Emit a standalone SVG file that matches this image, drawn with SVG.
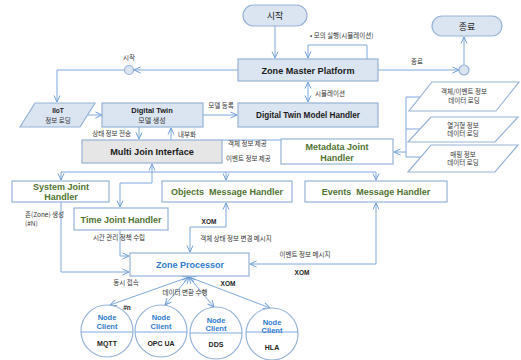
<svg xmlns="http://www.w3.org/2000/svg" width="521" height="360" viewBox="0 0 521 360">
<defs>
<marker id="a" viewBox="0 0 8 8" refX="7.5" refY="4" markerWidth="8" markerHeight="8" orient="auto-start-reverse" markerUnits="userSpaceOnUse"><path d="M1,1 L7.5,4 L1,7" fill="none" stroke="#6f9fd8" stroke-width="1"/></marker>
<style>
.b{fill:#dbe5f1;stroke:#95b3d7;stroke-width:1.2}
.w{fill:#ffffff;stroke:#95b3d7;stroke-width:1.2}
.g{fill:#e6e6e6;stroke:#95b3d7;stroke-width:1.2}
.c{fill:none;stroke:#7ea9dc;stroke-width:1}
.ca{fill:none;stroke:#7ea9dc;stroke-width:1;marker-end:url(#a)}
.cb{fill:none;stroke:#7ea9dc;stroke-width:1;marker-end:url(#a);marker-start:url(#a)}
text{font-family:"Liberation Sans","Noto Sans CJK KR",sans-serif;text-anchor:middle}
.k{font-family:"Noto Sans CJK KR","Liberation Sans",sans-serif;font-size:6.5px;fill:#333333}
.t{font-weight:bold;fill:#1a1a1a}
.gr{font-weight:bold;fill:#4f7330;font-size:9px}
.bl{font-weight:bold;fill:#2e7bcf}
.s{font-size:6.5px;font-weight:bold;fill:#222222}
</style>
</defs>
<rect width="521" height="360" fill="#ffffff"/>

<g id="connectors">
<line class="ca" x1="275" y1="26" x2="275" y2="58"/>
<polyline class="ca" points="367,59 367,45 308,45 308,58"/>
<line class="ca" x1="378" y1="70" x2="459" y2="70"/>
<line class="ca" x1="464" y1="65" x2="464" y2="37"/>
<line class="ca" x1="238" y1="70" x2="134" y2="70"/>
<polyline class="ca" points="124.5,70 57,70 57,102"/>
<line class="ca" x1="88" y1="115" x2="102" y2="115"/>
<line class="ca" x1="203" y1="115" x2="237" y2="115"/>
<line class="cb" x1="308" y1="82" x2="308" y2="102"/>
<line class="ca" x1="139" y1="127" x2="139" y2="139"/>
<line class="ca" x1="171" y1="140" x2="171" y2="128"/>
<line class="c" x1="222" y1="140" x2="281" y2="140"/>
<polyline class="c" points="420,97 406,97 406,157 420,157"/>
<line class="c" x1="406" y1="129" x2="420" y2="129"/>
<line class="ca" x1="406" y1="152" x2="394" y2="152"/>
<line class="c" x1="61" y1="172" x2="376" y2="172"/>
<line class="ca" x1="61" y1="172" x2="61" y2="180"/>
<line class="ca" x1="226" y1="172" x2="226" y2="180"/>
<line class="ca" x1="376" y1="172" x2="376" y2="180"/>
<polyline class="cb" points="152,164 152,183 120,183 120,207"/>
<polyline class="ca" points="61,202 61,272 129,272"/>
<polyline class="ca" points="120,230 120,256 129,256"/>
<polyline class="cb" points="226,203 226,227 190,227 190,252"/>
<polyline class="cb" points="376,203 376,264 250,264"/>
<line class="cb" x1="189" y1="277" x2="110" y2="305"/>
<line class="cb" x1="189" y1="277" x2="165" y2="305"/>
<line class="cb" x1="189" y1="277" x2="214" y2="307"/>
<line class="cb" x1="189" y1="277" x2="270" y2="308"/>
</g>

<g id="labels">
<text class="k" x="310" y="38" style="text-anchor:start">• 모의 실행(시뮬레이션)</text>
<text class="k" x="417" y="64">종료</text>
<text class="k" x="129" y="60">시작</text>
<text class="k" x="221" y="108">모델 등록</text>
<text class="k" x="315" y="96" style="text-anchor:start">시뮬레이션</text>
<text class="k" x="131" y="136" style="text-anchor:end">상태 정보 전송</text>
<text class="k" x="178" y="137" style="text-anchor:start">내부화</text>
<text class="k" x="228" y="146" style="text-anchor:start">객체 정보 제공</text>
<text class="k" x="226" y="161" style="text-anchor:start">이벤트 정보 제공</text>
<text class="k" x="25" y="217" style="text-anchor:start">존(Zone) 생성</text>
<text class="k" x="25" y="226" style="text-anchor:start">(#N)</text>
<text class="k" x="119" y="240">시간 관리 정책 수립</text>
<text class="s" x="209" y="224">XOM</text>
<text class="k" x="236" y="241">객체 상태 정보 변경 메시지</text>
<text class="k" x="305" y="257">이벤트 정보  메시지</text>
<text class="s" x="302" y="275">XOM</text>
<text class="k" x="126" y="285">동시 접속</text>
<text class="s" x="228" y="286">XOM</text>
<text class="k" x="185" y="295">데이터 변환 수행</text>
<text class="s" x="127" y="310">#n</text>
</g>

<g id="start"><rect class="b" x="243" y="5" width="64" height="21" rx="10.5"/><text class="k" x="275" y="19" style="font-size:9px;fill:#222">시작</text></g>
<g id="end"><rect class="b" x="432" y="16" width="70" height="20" rx="10"/><text class="k" x="467" y="29.5" style="font-size:9px;fill:#222">종료</text></g>
<g id="end-junction"><circle class="b" cx="464" cy="70" r="5"/></g>
<g id="start-junction"><circle class="b" cx="129" cy="70" r="4.5"/></g>

<g id="zone-master-platform"><rect class="b" x="238" y="59" width="140" height="22"/><text class="t" x="308" y="73.5" font-size="9.1">Zone Master Platform</text></g>
<g id="iiot"><polygon class="b" points="35,103 95,103 80,127 20,127"/><text class="s" x="58" y="113">IIoT</text><text class="k" x="58" y="123">정보 로딩</text></g>
<g id="digital-twin"><rect class="b" x="102" y="103" width="101" height="24"/><text class="t" x="152" y="113" font-size="7.5">Digital Twin</text><text class="k" x="152" y="123" style="font-size:7px">모델 생성</text></g>
<g id="dt-model-handler"><rect class="b" x="238" y="103" width="140" height="24"/><text class="t" x="308" y="118" font-size="8.2">Digital Twin Model Handler</text></g>
<g id="multi-join"><rect class="g" x="82" y="140" width="140" height="23"/><text class="t" x="152" y="155" font-size="9.2">Multi Join Interface</text></g>
<g id="metadata"><rect class="w" x="281" y="139" width="112" height="25"/><text class="gr" x="337" y="149.5">Metadata Joint</text><text class="gr" x="337" y="160.5">Handler</text></g>
<g id="p1"><polygon class="w" points="432,82 519,82 496,111 409,111"/><text class="k" x="464" y="94">객체/이벤트 정보</text><text class="k" x="464" y="103">데이터 로딩</text></g>
<g id="p2"><polygon class="w" points="431,117 518,117 495,142 408,142"/><text class="k" x="463" y="127.5">열거형 정보</text><text class="k" x="463" y="136">데이터 로딩</text></g>
<g id="p3"><polygon class="w" points="431,145 518,145 495,172 408,172"/><text class="k" x="463" y="156.5">매핑 정보</text><text class="k" x="463" y="165">데이터 로딩</text></g>
<g id="system-joint"><rect class="w" x="12" y="181" width="97" height="21"/><text class="gr" x="61" y="189.5">System Joint</text><text class="gr" x="61" y="200">Handler</text></g>
<g id="objects-msg"><rect class="w" x="162" y="181" width="130" height="21"/><text class="gr" x="227" y="195">Objects&#160; Message Handler</text></g>
<g id="events-msg"><rect class="w" x="305" y="181" width="142" height="21"/><text class="gr" x="376" y="195">Events&#160; Message Handler</text></g>
<g id="time-joint"><rect class="w" x="74" y="208" width="94" height="22"/><text class="gr" x="121" y="222.5">Time Joint Handler</text></g>
<g id="zone-processor"><rect class="w" x="130" y="253" width="119" height="23"/><text class="bl" x="190" y="268" font-size="9">Zone Processor</text></g>

<g id="mqtt"><circle class="w" cx="107" cy="331" r="26"/><line class="c" x1="81" y1="332" x2="133" y2="332"/><text class="bl" x="107" y="320" font-size="7.5">Node</text><text class="bl" x="107" y="328.5" font-size="7.5">Client</text><text class="s" x="107" y="346" style="font-size:7px">MQTT</text></g>
<g id="opcua"><circle class="w" cx="161" cy="331" r="26"/><line class="c" x1="135" y1="332" x2="187" y2="332"/><text class="bl" x="161" y="320" font-size="7.5">Node</text><text class="bl" x="161" y="328.5" font-size="7.5">Client</text><text class="s" x="161" y="346" style="font-size:7px">OPC UA</text></g>
<g id="dds"><circle class="w" cx="216" cy="333" r="26"/><line class="c" x1="190" y1="333" x2="242" y2="333"/><text class="bl" x="216" y="322.5" font-size="7.5">Node</text><text class="bl" x="216" y="330.5" font-size="7.5">Client</text><text class="s" x="216" y="347" style="font-size:7px">DDS</text></g>
<g id="hla"><circle class="w" cx="272" cy="334" r="26"/><line class="c" x1="246" y1="332" x2="298" y2="332"/><text class="bl" x="272" y="324.5" font-size="7.5">Node</text><text class="bl" x="272" y="332.5" font-size="7.5">Client</text><text class="s" x="272" y="350" style="font-size:7px">HLA</text></g>
</svg>
